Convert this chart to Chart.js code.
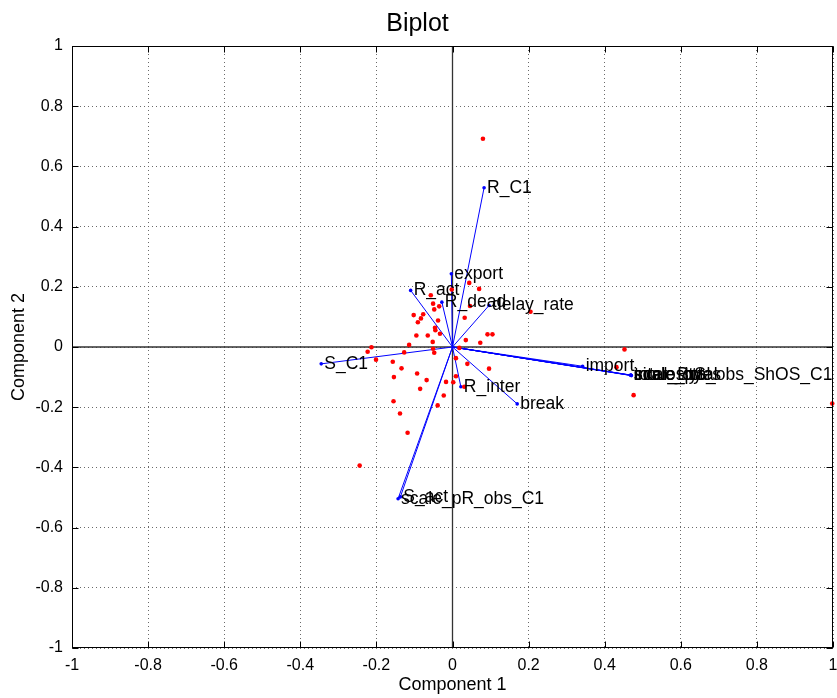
<!DOCTYPE html>
<html><head><meta charset="utf-8">
<script src="https://cdn.jsdelivr.net/npm/chart.js@4/dist/chart.umd.min.js"></script>
<style>html,body{margin:0;padding:0;background:#fff}#wrap{width:837px;height:698px}</style>
</head><body><div id="wrap"><canvas id="c" width="837" height="698"></canvas></div>
<script>
// Variable (loading) vectors
const varLabels = ["R_C1","export","R_act","R_dead","delay_rate","S_C1","R_inter","break","import",
  "S_act","scale_pR_obs_C1","scale_total","inter_total","total_Bytes","sinuosity","scale_pS_obs_ShOS_C1"];
const varX = [0.083,-0.003,-0.110,-0.028,0.096,-0.345,0.022,0.170,0.342,
  -0.137,-0.143,0.469,0.468,0.470,0.469,0.469];
const varY = [0.529,0.243,0.188,0.149,0.138,-0.056,-0.132,-0.189,-0.064,
  -0.498,-0.504,-0.094,-0.093,-0.095,-0.094,-0.094];

// Observation scores
const scoreX = [0.080,0.044,0.070,-0.002,-0.057,-0.051,-0.048,-0.035,0.046,0.032,0.205,-0.102,-0.077,-0.083,-0.091,
  -0.046,-0.045,-0.033,-0.095,-0.065,0.092,0.105,0.035,0.073,-0.052,-0.114,-0.213,-0.223,-0.201,-0.127,-0.051,
  -0.048,0.018,0.009,0.039,-0.157,-0.134,-0.154,-0.093,-0.068,0.096,0.009,-0.017,0.002,0.031,-0.085,-0.023,
  -0.155,-0.039,-0.138,-0.118,-0.244,0.452,0.431,0.476,0.998,-0.038];
const scoreY = [0.692,0.213,0.193,0.191,0.172,0.144,0.125,0.135,0.136,0.097,0.117,0.106,0.109,0.095,0.082,
  0.064,0.056,0.044,0.038,0.038,0.042,0.042,0.023,0.014,0.017,0.007,-0.001,-0.016,-0.042,-0.018,-0.006,
  -0.019,-0.003,-0.037,-0.056,-0.049,-0.071,-0.100,-0.088,-0.110,-0.072,-0.097,-0.116,-0.117,-0.132,-0.139,-0.161,
  -0.180,-0.194,-0.221,-0.285,-0.394,-0.008,-0.067,-0.160,-0.188,0.088];

const tickValues = [-1,-0.8,-0.6,-0.4,-0.2,0,0.2,0.4,0.6,0.8,1];
const tickLabels = ["-1","-0.8","-0.6","-0.4","-0.2","0","0.2","0.4","0.6","0.8","1"];
const axisRange = [-1, 1];

const FONT = '"Liberation Sans", Arial, Helvetica, sans-serif';

const datasets = [];
// zero axes lines
datasets.push({type:'scatter', data:[{x:axisRange[0],y:0},{x:axisRange[1],y:0}], showLine:true,
  borderColor:'#333333', borderWidth:1.3, pointRadius:0, order:3});
datasets.push({type:'scatter', data:[{x:0,y:axisRange[0]},{x:0,y:axisRange[1]}], showLine:true,
  borderColor:'#333333', borderWidth:1.3, pointRadius:0, order:3});
// vectors
varLabels.forEach((lab,i)=>{
  datasets.push({type:'scatter', label:lab, data:[{x:0,y:0},{x:varX[i],y:varY[i]}], showLine:true,
    borderColor:'#0000ff', borderWidth:1, pointRadius:[0,1.8], pointBackgroundColor:'#0000ff',
    pointBorderWidth:0, order:2});
});
// scores
datasets.push({type:'scatter', data:scoreX.map((v,i)=>({x:v,y:scoreY[i]})), pointRadius:2.3,
  pointBackgroundColor:'#ff0000', pointBorderWidth:0, order:1, clip:2});

const framePlugin = {
  id:'frame',
  afterDraw(chart){
    const {ctx, chartArea:a, scales:{x,y}} = chart;
    ctx.save();
    ctx.strokeStyle = '#000'; ctx.lineWidth = 1;
    const L = Math.round(a.left)+0.5, R = Math.round(a.right)-0.5, T = Math.round(a.top)+0.5, B = Math.round(a.bottom)-0.5;
    ctx.strokeRect(L, T, R-L, B-T);
    const tl = 6;
    ctx.beginPath();
    tickValues.forEach(v=>{
      const px = Math.round(x.getPixelForValue(v))+0.5;
      ctx.moveTo(px,B); ctx.lineTo(px,B-tl);
      ctx.moveTo(px,T); ctx.lineTo(px,T+tl);
      const py = Math.round(y.getPixelForValue(v))+0.5;
      ctx.moveTo(L,py); ctx.lineTo(L+tl,py);
      ctx.moveTo(R,py); ctx.lineTo(R-tl,py);
    });
    ctx.stroke();
    ctx.restore();
  }
};
const labelPlugin = {
  id:'varLabels',
  afterDatasetsDraw(chart){
    const {ctx, scales:{x,y}} = chart;
    ctx.save();
    ctx.font = '17.5px ' + FONT;
    ctx.fillStyle = '#000';
    ctx.textAlign = 'left';
    ctx.textBaseline = 'middle';
    varLabels.forEach((t,i)=>{
      ctx.fillText(t, x.getPixelForValue(varX[i])+3, y.getPixelForValue(varY[i]));
    });
    ctx.restore();
  }
};

new Chart(document.getElementById('c'), {
  type:'scatter',
  data:{datasets},
  options:{
    responsive:false, animation:false, devicePixelRatio:1,
    layout:{padding:{left:0,right:2,top:0,bottom:0}},
    plugins:{
      legend:{display:false}, tooltip:{enabled:false},
      title:{display:true, text:'Biplot', color:'#000', font:{family:FONT, size:25, weight:'normal'},
        padding:{top:9,bottom:7}}
    },
    scales:{
      x:{type:'linear', min:axisRange[0], max:axisRange[1], position:'bottom',
        afterBuildTicks:s=>{ s.ticks = tickValues.map(v=>({value:v})); },
        afterFit:s=>{ s.height = 50; s.paddingLeft = 0; s.paddingRight = 0; },
        ticks:{font:{family:FONT,size:16}, color:'#000', padding:8, maxRotation:0, autoSkip:false,
          callback:(v,i)=>tickLabels[i]},
        grid:{color:'#6a6a6a', lineWidth:1, drawTicks:false},
        border:{display:false, dash:[1,3]},
        title:{display:true, text:'Component 1', color:'#000', font:{family:FONT,size:18}, padding:{top:0,bottom:2}}
      },
      y:{type:'linear', min:axisRange[0], max:axisRange[1], position:'left',
        afterBuildTicks:s=>{ s.ticks = tickValues.map(v=>({value:v})); },
        afterFit:s=>{ s.width = 72; s.paddingTop = 0; s.paddingBottom = 0; },
        ticks:{font:{family:FONT,size:16}, color:'#000', padding:9, autoSkip:false,
          callback:(v,i)=>tickLabels[i]},
        grid:{color:'#6a6a6a', lineWidth:1, drawTicks:false},
        border:{display:false, dash:[1,3]},
        title:{display:true, text:'Component 2', color:'#000', font:{family:FONT,size:18}, padding:{top:8,bottom:0}}
      }
    }
  },
  plugins:[framePlugin, labelPlugin]
});
</script></body></html>
